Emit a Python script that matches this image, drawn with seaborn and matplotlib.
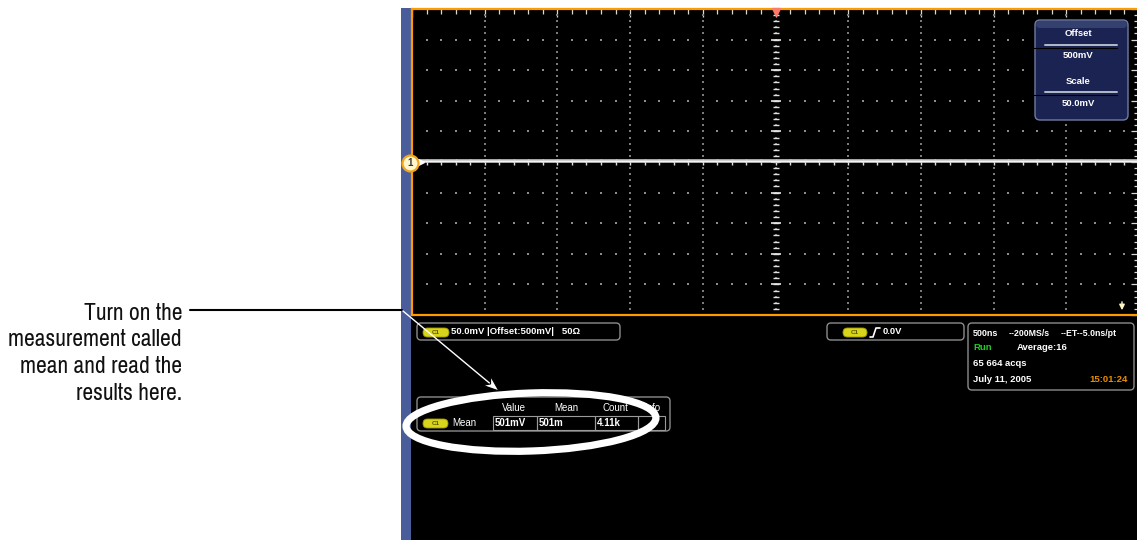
import numpy as np
import seaborn as sns
import matplotlib
matplotlib.use("Agg")
import matplotlib.pyplot as plt
from matplotlib import font_manager
from matplotlib.patches import FancyBboxPatch, Rectangle, Ellipse, Polygon
from matplotlib.ticker import MultipleLocator
from matplotlib.transforms import offset_copy

# scope settings
time_per_div_us = 0.5
mv_per_div = 50.0
offset_mv = 500.0
n_hdiv = 10
n_vdiv = 10

# channel 1 trace: averaged DC level
trace_time_us = [-2.5, -1.5, -0.5, 0.5, 1.5, 2.5]
trace_mv = [501, 501, 501, 501, 501, 501]

# measurement table
meas_headers = ["Value", "Mean", "Count", "Info"]
meas_name = "Mean"
meas_row = ["501mV", "501m", "4.11k", ""]

# readouts
channel_readout = "50.0mV |Offset:500mV|   50Ω"
trigger_level = "0.0V"
timebase_row = ["500ns", "--200MS/s", "--ET--5.0ns/pt"]
acq_state = "Run"
acq_mode = "Average:16"
acq_count = "65 664 acqs"
date_str = "July 11, 2005"
time_str = "15:01:24"
panel_labels = ["Offset", "500mV", "Scale", "50.0mV"]
callout_lines = ["Turn on the", "measurement called", "mean and read the", "results here."]

sns.set_style("white")
fonts = font_manager.fontManager.ttflist
narrow = [f.name for f in fonts if "Narrow" in f.name or "Condensed" in f.name]
if narrow:
    callout_font, callout_size = narrow[0], 17
else:
    callout_font, callout_size = "Liberation Sans", 14
ui_font = ["Liberation Sans", "DejaVu Sans"]
plt.rcParams["font.family"] = ui_font

W, H = 1137, 540
fig = plt.figure(figsize=(W / 100, H / 100), dpi=100)
fig.patch.set_facecolor("white")

# pixel-space layers
ax_bg = fig.add_axes([0, 0, 1, 1], zorder=0)
ax_top = fig.add_axes([0, 0, 1, 1], zorder=3)
for a in (ax_bg, ax_top):
    a.set_xlim(0, W)
    a.set_ylim(H, 0)
    a.axis("off")
    a.patch.set_alpha(0)

ax_bg.add_patch(Rectangle((401, 8), 10, H - 8, color="#4a5d9b", lw=0))
ax_bg.add_patch(Rectangle((411, 8), W - 411, H - 8, color="black", lw=0))

# graticule
gl, gr, gt, gb = 412, 1139, 9, 315
ax = fig.add_axes([gl / W, 1 - gb / H, (gr - gl) / W, (gb - gt) / H], zorder=1)
ax.set_facecolor("black")
half_t = time_per_div_us * n_hdiv / 2
half_v = mv_per_div * n_vdiv / 2
ax.set_xlim(-half_t, half_t)
ax.set_ylim(offset_mv - half_v, offset_mv + half_v)

for s in ax.spines.values():
    s.set_color("#ff9a00")
    s.set_linewidth(1.6)
ax.xaxis.set_major_locator(MultipleLocator(time_per_div_us))
ax.xaxis.set_minor_locator(MultipleLocator(time_per_div_us / 5))
ax.yaxis.set_major_locator(MultipleLocator(mv_per_div))
ax.yaxis.set_minor_locator(MultipleLocator(mv_per_div / 5))
ax.tick_params(which="both", direction="in", top=True, right=True, color="#d8d8d8",
               labelleft=False, labelbottom=False, width=0.9)
ax.tick_params(which="major", length=5.5)
ax.tick_params(which="minor", length=3.5)

xmaj = np.arange(-half_t, half_t + 1e-9, time_per_div_us)
xmin = np.arange(-half_t, half_t + 1e-9, time_per_div_us / 5)
ymaj = np.arange(offset_mv - half_v, offset_mv + half_v + 1e-9, mv_per_div)
ymin = np.arange(offset_mv - half_v, offset_mv + half_v + 1e-9, mv_per_div / 5)

gx, gy = np.meshgrid(xmin, ymaj[1:-1])
ax.scatter(gx.ravel(), gy.ravel(), s=1.2, marker="s", color="#8c8c8c", linewidths=0)
gx, gy = np.meshgrid(xmaj[1:-1], ymin)
ax.scatter(gx.ravel(), gy.ravel(), s=0.9, marker="s", color="#7a7a7a", linewidths=0)

# centre cross ticks
ax.plot(np.zeros_like(ymin), ymin, ls="none", marker="_", ms=4.5, mew=1, color="#e0e0e0")
ax.plot(np.zeros_like(ymaj), ymaj, ls="none", marker="_", ms=7, mew=1.2, color="#e8e8e8")
ax.plot(xmin, np.full_like(xmin, offset_mv), ls="none", marker="|", ms=4.5, mew=1, color="#e0e0e0")

sns.lineplot(x=trace_time_us, y=trace_mv, ax=ax, color="#cdcdcd", lw=2.6, zorder=4)
sns.lineplot(x=trace_time_us, y=trace_mv, ax=ax, color="#f4f4f4", lw=0.8, zorder=4)

# trigger position and channel ground markers
ax.plot([0], [offset_mv + half_v], ls="none", marker="v", ms=6, color="#ff7a66",
        clip_on=False, zorder=6,
        transform=offset_copy(ax.transData, fig, y=-3, units="dots"))
ax.plot([-half_t], [offset_mv], ls="none", marker=">", ms=5, color="white", clip_on=False,
        zorder=6, transform=offset_copy(ax.transData, fig, x=9, units="dots"))
ax.plot([-half_t], [offset_mv], ls="none", marker="o", ms=11.5, mfc="#fff6cc", mec="#f2a51a",
        mew=1.6, clip_on=False, zorder=7,
        transform=offset_copy(ax.transData, fig, x=-2, y=-1, units="dots"))
ax.text(-half_t, offset_mv, "1", fontsize=7, weight="bold", color="#333333", ha="center",
        va="center", zorder=8, transform=offset_copy(ax.transData, fig, x=-2, y=-1, units="dots"))


def rbox(x0, y0, x1, y1, fc="black", ec="#8c8c8c", r=4, lw=1.0, z=2):
    ax_top.add_patch(FancyBboxPatch((x0, y0), x1 - x0, y1 - y0,
                                    boxstyle=f"round,pad=0,rounding_size={r}",
                                    fc=fc, ec=ec, lw=lw, zorder=z))


def pill(x0, y0, x1, y1):
    rbox(x0, y0, x1, y1, fc="#d9d41c", ec="#a09a00", r=(y1 - y0) / 2, lw=0.6, z=3)
    ax_top.text((x0 + x1) / 2, (y0 + y1) / 2, "C1", fontsize=4.5, color="#5a5600",
                ha="center", va="center", weight="bold", zorder=4)


def label(x, y, s, ha="left", color="white", size=6.8, weight="bold"):
    ax_top.text(x, y, s, ha=ha, va="center", color=color, fontsize=size, weight=weight, zorder=5)


# offset / scale panel
rbox(1035, 20, 1128, 120, fc="#1b2352", ec="#6f7ca3", r=5, lw=1)
rbox(1036, 21, 1127, 28, fc="#34416f", ec="none", r=4, lw=0)
label(1078, 33, panel_labels[0], ha="center")
label(1078, 56, panel_labels[1], ha="center")
label(1078, 82, panel_labels[2], ha="center")
label(1078, 103, panel_labels[3], ha="center")
for yl in (45, 92):
    ax_top.plot([1045, 1117], [yl, yl], color="#b4bccb", lw=1.4, zorder=5)
    ax_top.plot([1030, 1117], [yl + 3, yl + 3], color="black", lw=0.8, zorder=5)

# channel readout
rbox(417, 323, 620, 340)
pill(423, 328, 449, 337)
label(451, 332, channel_readout)

# trigger readout
rbox(827, 323, 964, 340)
pill(843, 328, 867, 337)
ax_top.plot([870, 873, 876, 880], [337, 337, 328, 328], color="white", lw=1.2, zorder=5)
label(883, 332, trigger_level)

# timebase / acquisition readout
rbox(968, 323, 1134, 390)
label(973, 333, timebase_row[0], size=6.5)
label(1009, 333, timebase_row[1], size=6.3)
label(1061, 333, timebase_row[2], size=6.3)
label(973, 348, acq_state, color="#1fd01f")
label(1017, 348, acq_mode)
label(973, 363, acq_count)
label(973, 379, date_str)
label(1128, 379, time_str, ha="right", color="#e88d00")

# right edge arrow
ax_top.annotate("", xy=(1122, 313), xytext=(1122, 299),
                arrowprops=dict(arrowstyle="-|>", color="#fff6c0", lw=1, mutation_scale=8), zorder=5)

# measurement table
rbox(417, 397, 670, 431)
for hx, h in zip([514, 566, 615, 652], meas_headers):
    label(hx, 408, h, ha="center", weight="normal", size=7)
pill(423, 419, 448, 428)
label(452, 423, meas_name, weight="normal", size=7)
cells = [493, 537, 595, 638, 665]
for i in range(4):
    ax_top.add_patch(Rectangle((cells[i], 416), cells[i + 1] - cells[i], 14, fc="none",
                               ec="#9a9a9a", lw=0.8, zorder=4))
    label(cells[i] + 2, 423, meas_row[i], size=7)

# callout
for yb, line in zip([320, 346.5, 373, 399.5], callout_lines):
    ax_top.text(182, yb, line, ha="right", va="baseline", fontsize=callout_size,
                family=callout_font, color="#111111")
ax_top.plot([190, 402], [310, 310], color="black", lw=1.5, zorder=6)
tip = np.array([499.0, 391.0])
start = np.array([403.0, 311.0])
d = (tip - start) / np.linalg.norm(tip - start)
nrm = np.array([-d[1], d[0]])
ax_top.plot([start[0], tip[0] - 10 * d[0]], [start[1], tip[1] - 10 * d[1]], color="white", lw=1, zorder=6)
head = [tip, tip - 16 * d + 6 * nrm, tip - 11 * d, tip - 16 * d - 6 * nrm]
ax_top.add_patch(Polygon(head, closed=True, fc="white", ec="black", lw=0.8, zorder=7))
ax_top.add_patch(Ellipse((531, 422), 250, 58, angle=-2, fill=False, ec="white", lw=5.2, zorder=8))

fig.savefig("out.png", dpi=100, facecolor="white")
